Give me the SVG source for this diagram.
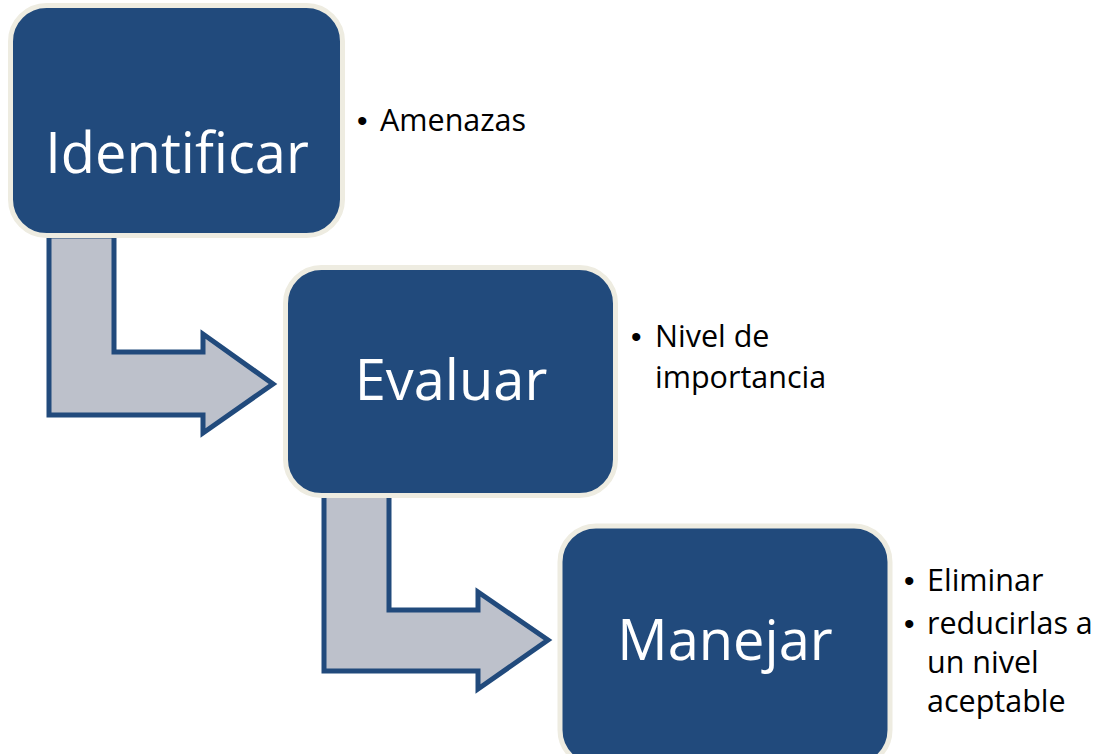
<svg xmlns="http://www.w3.org/2000/svg" width="1107" height="754" viewBox="0 0 1107 754">
<style>
.box{fill:#214A7C;stroke:#EEECE1;stroke-width:5}
.arrow{fill:#BDC1CB;stroke:#214A7C;stroke-width:5;stroke-linejoin:miter}
.lbl{font-family:"Open Sans","Noto Sans",sans-serif;font-size:56px;fill:#FFFFFF;text-anchor:middle}
.bul{font-family:"Open Sans","Noto Sans",sans-serif;font-size:30.5px;fill:#000000}
.dot{font-family:"Liberation Sans",sans-serif;font-size:30px;fill:#000000}
</style>
<rect width="1107" height="754" fill="#FFFFFF"/>
<g id="connectors">
<path class="arrow" d="M49,236 L114,236 L114,352 L203,352 L203,334 L273,384 L203,433 L203,415 L49,415 Z"/>
<path class="arrow" d="M324,494 L389,494 L389,610 L478,610 L478,592 L548,640 L478,689 L478,671 L324,671 Z"/>
</g>
<g id="node-identificar">
<rect class="box" x="10.5" y="5.5" width="332" height="230" rx="36"/>
<text class="lbl" x="177" y="173">Identificar</text>
</g>
<g id="node-evaluar">
<rect class="box" x="285.5" y="267.5" width="330" height="228" rx="36"/>
<text class="lbl" x="451" y="400">Evaluar</text>
</g>
<g id="node-manejar">
<rect class="box" x="560" y="526" width="330" height="240" rx="36"/>
<text class="lbl" x="725" y="660">Manejar</text>
</g>
<g id="notes">
<text class="dot" x="357" y="131">•</text>
<text class="bul" x="380" y="131">Amenazas</text>
<text class="dot" x="631" y="347">•</text>
<text class="bul" x="655" y="347">Nivel de</text>
<text class="bul" x="655" y="388">importancia</text>
<text class="dot" x="904" y="591">•</text>
<text class="bul" x="927" y="591">Eliminar</text>
<text class="dot" x="904" y="634">•</text>
<text class="bul" x="927" y="634">reducirlas a</text>
<text class="bul" x="927" y="673">un nivel</text>
<text class="bul" x="927" y="712">aceptable</text>
</g>
</svg>
